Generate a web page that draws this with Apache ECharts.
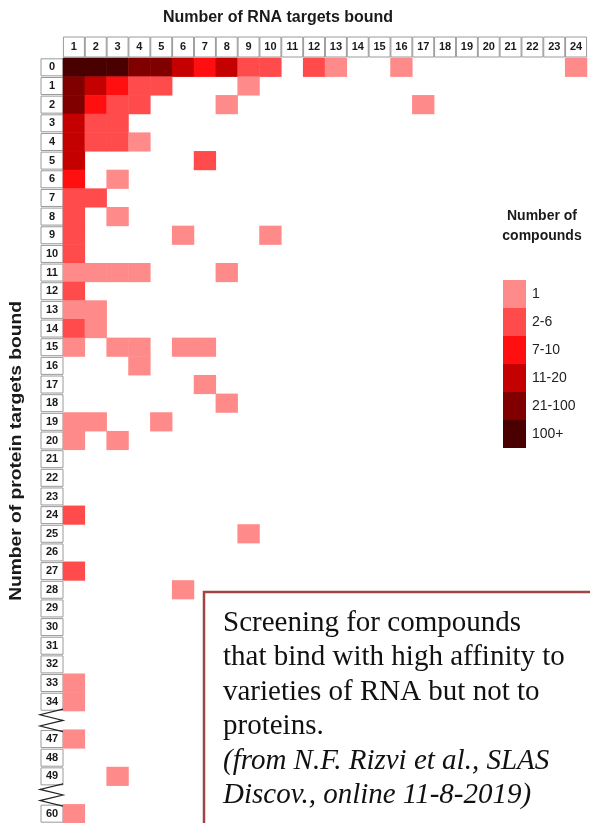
<!DOCTYPE html>
<html>
<head>
<meta charset="utf-8">
<script src="https://cdn.jsdelivr.net/npm/echarts@6/dist/echarts.min.js"></script>
<style>
html,body{margin:0;padding:0;background:#fff;}
#chart{width:590px;height:823px;}
</style>
</head>
<body>
<div id="chart"></div>
<script>
// RNA targets bound (columns)
var rnaTargets = ['1','2','3','4','5','6','7','8','9','10','11','12','13','14','15','16','17','18','19','20','21','22','23','24'];
// Protein targets bound (rows); 'gap1'/'gap2' are axis breaks
var proteinTargets = ['0','1','2','3','4','5','6','7','8','9','10','11','12','13','14','15','16','17','18','19','20','21','22','23','24','25','26','27','28','29','30','31','32','33','34','gap1','47','48','49','gap2','60'];
// Number of compounds per cell [rnaTargets, proteinTargets, count] (estimated from colour class)
var compoundCounts = [
  ['1','0',150],['2','0',150],['3','0',150],['4','0',50],['5','0',50],['6','0',15],['7','0',8],['8','0',15],['9','0',4],['10','0',4],['12','0',4],['13','0',1],['16','0',1],['24','0',1],
  ['1','1',50],['2','1',15],['3','1',8],['4','1',4],['5','1',4],['9','1',1],
  ['1','2',50],['2','2',8],['3','2',4],['4','2',4],['8','2',1],['17','2',1],
  ['1','3',15],['2','3',4],['3','3',4],
  ['1','4',15],['2','4',4],['3','4',4],['4','4',1],
  ['1','5',15],['7','5',4],
  ['1','6',8],['3','6',1],
  ['1','7',4],['2','7',4],
  ['1','8',4],['3','8',1],
  ['1','9',4],['6','9',1],['10','9',1],
  ['1','10',4],
  ['1','11',1],['2','11',1],['3','11',1],['4','11',1],['8','11',1],
  ['1','12',4],
  ['1','13',1],['2','13',1],
  ['1','14',4],['2','14',1],
  ['1','15',1],['3','15',1],['4','15',1],['6','15',1],['7','15',1],
  ['4','16',1],
  ['7','17',1],
  ['8','18',1],
  ['1','19',1],['2','19',1],['5','19',1],
  ['1','20',1],['3','20',1],
  ['1','24',4],
  ['9','25',1],
  ['1','27',4],
  ['6','28',1],
  ['1','33',1],
  ['1','34',1],
  ['1','47',1],
  ['3','49',1],
  ['1','60',1]
];
// Legend classes
var classLabels = ['1','2-6','7-10','11-20','21-100','100+'];
var classMin = [1,2,7,11,21,101];
var classMax = [1,6,10,20,100,Infinity];
var classColors = ['#FF8A8A','#FF4B4B','#FF0F0F','#C40000','#800000','#4A0000'];

var chart = echarts.init(document.getElementById('chart'));
var pieces = classLabels.map(function(l,i){
  var p = {label: l, color: classColors[i], min: classMin[i]};
  if (isFinite(classMax[i])) p.max = classMax[i];
  return p;
});
var gridTop = 58, gridLeft = 63, gridH = 765, gridW = 528;
var option = {
  animation: false,
  backgroundColor: '#fff',
  grid: {left: gridLeft, top: gridTop, width: gridW, height: gridH},
  xAxis: {
    type: 'category', position: 'top', data: rnaTargets,
    axisLine: {show: false}, axisTick: {show: false}, splitLine: {show: false},
    axisLabel: {
      interval: 0, margin: 1,
      formatter: function(v){ return '{h|' + v + '}'; },
      rich: {h: {width: 21, height: 20, lineHeight: 20, align: 'center', verticalAlign: 'middle',
        borderColor: '#9a9a9a', borderWidth: 1, fontFamily: 'Liberation Sans, Arial', fontWeight: 'bold', fontSize: 11, color: '#1a1a1a'}}
    }
  },
  yAxis: {
    type: 'category', inverse: true, data: proteinTargets,
    axisLine: {show: false}, axisTick: {show: false}, splitLine: {show: false},
    axisLabel: {
      interval: 0, margin: 0,
      formatter: function(v){ return v.indexOf('gap') === 0 ? '' : '{b|' + v + '}'; },
      rich: {b: {width: 22, height: 17, lineHeight: 17, align: 'center', verticalAlign: 'middle',
        borderColor: '#9a9a9a', borderWidth: 1, fontFamily: 'Liberation Sans, Arial', fontWeight: 'bold', fontSize: 11, color: '#1a1a1a'}}
    }
  },
  visualMap: {
    type: 'piecewise', orient: 'vertical', inverse: true, align: 'left',
    left: 488, top: 265, itemWidth: 23, itemHeight: 28, itemGap: 0, itemSymbol: 'rect',
    textGap: 6, pieces: pieces, hoverLink: false, selectedMode: false,
    textStyle: {fontFamily: 'Liberation Sans, Arial', fontSize: 14, color: '#222'}
  },
  series: [{
    type: 'heatmap', data: compoundCounts,
    itemStyle: {borderWidth: 0},
    emphasis: {disabled: true}
  }],
  graphic: [
    {type: 'text', x: 278, y: 18,
      style: {text: 'Number of RNA targets bound', align: 'center', verticalAlign: 'middle',
      font: 'bold 16px "Liberation Sans", Arial', fill: '#1a1a1a'}},
    {type: 'text', x: 17, y: 451, rotation: Math.PI/2, scaleX: 1.2,
      style: {text: 'Number of protein targets bound', align: 'center', verticalAlign: 'middle',
      font: 'bold 16px "Liberation Sans", Arial', fill: '#1a1a1a'}},
    {type: 'text', x: 542, y: 226,
      style: {text: 'Number of\ncompounds', align: 'center', verticalAlign: 'middle', lineHeight: 20,
      font: 'bold 14px "Liberation Sans", Arial', fill: '#1a1a1a'}},
    {type: 'rect', shape: {x: 204, y: 592, width: 400, height: 250}, z: 100,
      style: {fill: '#fff', stroke: '#A04545', lineWidth: 2.5}},
    {type: 'text', x: 223, y: 606, z: 101,
      style: {text: 'Screening for compounds\nthat bind with high affinity to\nvarieties of RNA but not to\nproteins.',
      font: '29px "Liberation Serif", "Times New Roman"', lineHeight: 34.5, fill: '#111', verticalAlign: 'top'}},
    {type: 'text', x: 223, y: 744, z: 101,
      style: {text: '(from N.F. Rizvi et al., SLAS\nDiscov., online 11-8-2019)',
      font: 'italic 29px "Liberation Serif", "Times New Roman"', lineHeight: 34.5, fill: '#111', verticalAlign: 'top'}}
  ]
};
chart.setOption(option);

// draw zigzag break marks on the axis-break rows
var band = gridH / proteinTargets.length;
var zig = [];
['gap1','gap2'].forEach(function(g){
  var cy = chart.convertToPixel({yAxisIndex: 0}, g);
  var t = cy - band*0.6, b = cy + band*0.6, xr = 63, xl = 40;
  zig.push({type: 'polyline', z: 50, shape: {points: [[xr, t],[xl, t + (b-t)*0.25],[xr, cy],[xl, t + (b-t)*0.75],[xr, b]]},
    style: {stroke: '#222', lineWidth: 1.2, fill: null}});
});
chart.setOption({graphic: option.graphic.concat(zig)});
</script>
</body>
</html>
